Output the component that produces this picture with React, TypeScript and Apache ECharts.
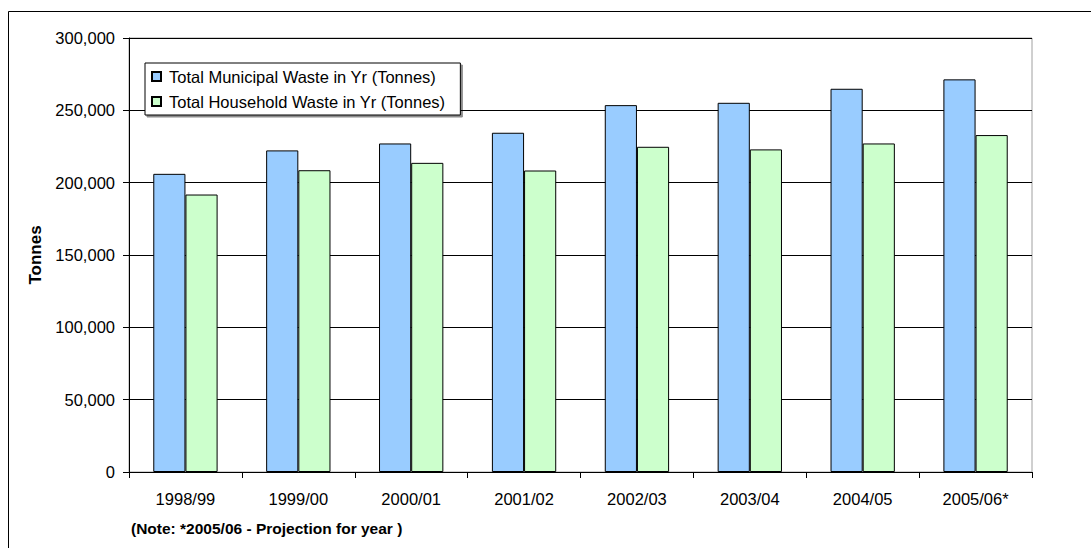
import React, { useEffect, useRef } from "react";
import * as echarts from "echarts";

const years = ["1998/99", "1999/00", "2000/01", "2001/02", "2002/03", "2003/04", "2004/05", "2005/06*"];
const municipalWaste = [206100, 222300, 227100, 234500, 253600, 255200, 264900, 271400];
const householdWaste = [191800, 208600, 213700, 208400, 224800, 223000, 227100, 232900];
const seriesNames = ["Total Municipal Waste in Yr (Tonnes)", "Total Household Waste in Yr (Tonnes)"];
const yTicks = { min: 0, max: 300000, interval: 50000 };
const noteText = "(Note: *2005/06 - Projection for year )";
const yTitle = "Tonnes";

const FONT = "'Liberation Sans', Arial, sans-serif";

export default function App() {
  const ref = useRef<HTMLDivElement>(null);

  useEffect(() => {
    if (!ref.current) return;
    const chart = echarts.init(ref.current, undefined, { renderer: "svg" });
    const fmt = (v: number) => v.toLocaleString("en-US");
    chart.setOption({
      animation: false,
      backgroundColor: "#ffffff",
      textStyle: { fontFamily: FONT },
      grid: {
        left: 129,
        top: 38,
        right: 59,
        bottom: 76,
        show: true,
        borderColor: "#a0a0a0",
        borderWidth: 1,
        backgroundColor: "transparent",
      },
      legend: {
        orient: "vertical",
        left: 145,
        top: 63,
        padding: [5, 15, 5, 6],
        itemGap: 8,
        itemWidth: 9,
        itemHeight: 9,
        icon: "rect",
        backgroundColor: "#ffffff",
        borderColor: "#000000",
        borderWidth: 1,
        shadowColor: "rgba(0,0,0,0.45)",
        shadowOffsetX: 2,
        shadowOffsetY: 2,
        shadowBlur: 0,
        textStyle: { fontFamily: FONT, fontSize: 16.5, color: "#000", padding: [0, 0, 0, 3] },
        data: seriesNames,
      },
      xAxis: {
        type: "category",
        data: years,
        axisLine: { lineStyle: { color: "#000", width: 1 } },
        axisTick: { show: true, interval: 0, length: 6, lineStyle: { color: "#000" } },
        axisLabel: { fontFamily: FONT, fontSize: 16.5, color: "#000", margin: 18, interval: 0 },
        splitLine: { show: false },
      },
      yAxis: {
        type: "value",
        min: yTicks.min,
        max: yTicks.max,
        interval: yTicks.interval,
        axisLine: { show: true, lineStyle: { color: "#000", width: 1 } },
        axisTick: { show: true, length: 6, lineStyle: { color: "#000" } },
        axisLabel: { fontFamily: FONT, fontSize: 16.5, color: "#000", margin: 14, formatter: fmt },
        splitLine: { show: true, lineStyle: { color: "#000", width: 1 } },
      },
      series: [
        {
          name: seriesNames[0],
          type: "bar",
          data: municipalWaste,
          barGap: "0%",
          barCategoryGap: "43%",
          itemStyle: { color: "#99ccff", borderColor: "#000", borderWidth: 1 },
        },
        {
          name: seriesNames[1],
          type: "bar",
          data: householdWaste,
          barGap: "0%",
          barCategoryGap: "43%",
          itemStyle: { color: "#ccffcc", borderColor: "#000", borderWidth: 1 },
        },
      ],
      graphic: [
        {
          type: "rect",
          shape: { x: 8.5, y: 11.5, width: 1200, height: 700 },
          style: { fill: "none", stroke: "#000", lineWidth: 1 },
          silent: true,
        },
        {
          type: "text",
          x: 35,
          y: 255,
          rotation: Math.PI / 2,
          style: {
            text: yTitle,
            fontFamily: FONT,
            fontSize: 17,
            fontWeight: "bold",
            fill: "#000",
            align: "center",
            verticalAlign: "middle",
          },
        },
        {
          type: "text",
          x: 131,
          y: 528,
          style: {
            text: noteText,
            fontFamily: FONT,
            fontSize: 15.5,
            fontWeight: "bold",
            fill: "#000",
            align: "left",
            verticalAlign: "middle",
          },
        },
      ],
    });
    return () => chart.dispose();
  }, []);

  return (
    <div
      ref={ref}
      style={{ position: "fixed", left: 0, top: 0, width: 1091, height: 548, background: "#fff" }}
    />
  );
}
